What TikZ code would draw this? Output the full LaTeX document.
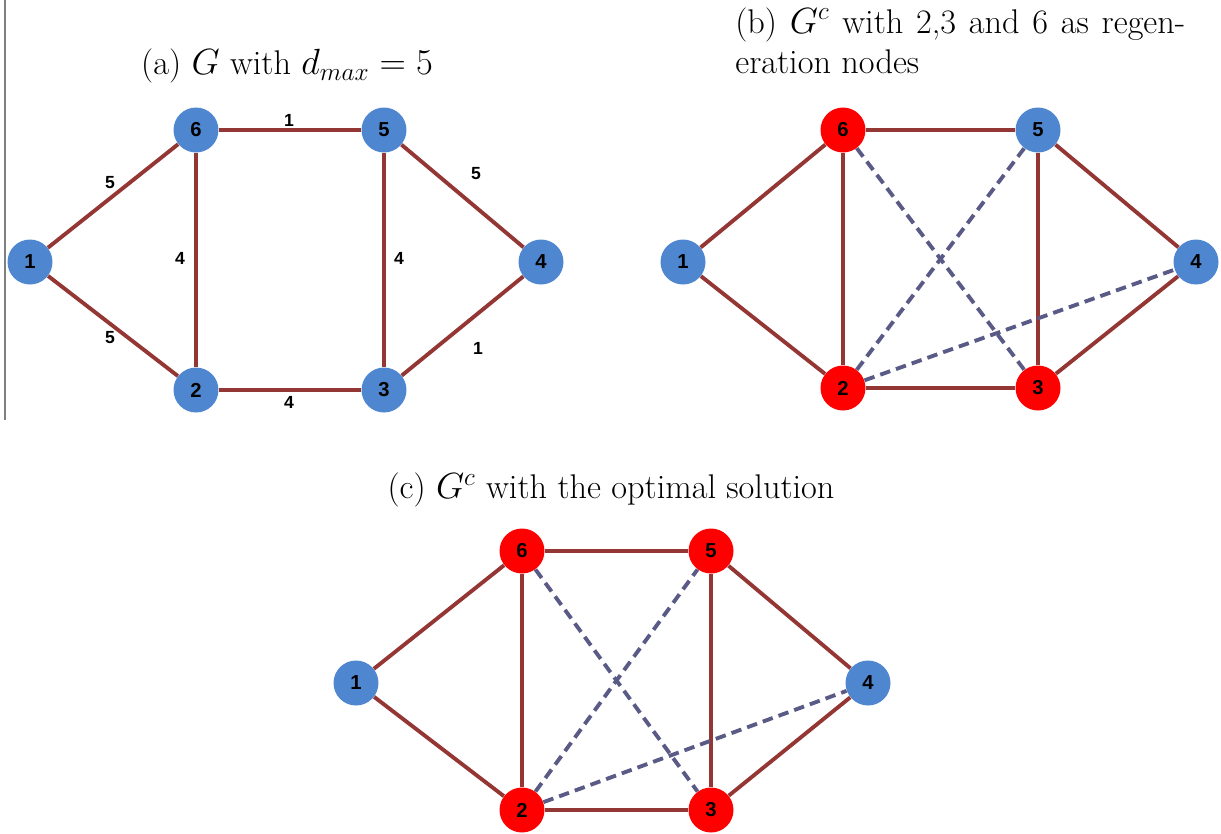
\documentclass[tikz,border=0pt]{standalone}
\usepackage{fontspec}
\newfontfamily\arialb{Liberation Sans}[BoldFont={* Bold}]
\begin{document}
\begin{tikzpicture}[x=0.02cm,y=-0.02cm,
  vtx/.style={circle,minimum size=0.9cm,inner sep=0pt,font=\arialb\bfseries\fontsize{11.5}{12}\selectfont},
  bl/.style={vtx,fill={rgb,255:red,79;green,134;blue,208}},
  rd/.style={vtx,fill={rgb,255:red,255;green,0;blue,0}},
  ed/.style={draw={rgb,255:red,148;green,54;blue,52},line width=2.2pt},
  dsh/.style={draw={rgb,255:red,90;green,90;blue,135},line width=2.2pt,dash pattern=on 6pt off 3.5pt},
  wl/.style={font=\arialb\bfseries\fontsize{10}{12}\selectfont,inner sep=0pt},
  ttl/.style={font=\fontsize{19.5}{23}\selectfont,inner sep=0pt}]
\useasboundingbox (0,0) rectangle (1221,833);
\draw[line width=0.9pt,gray] (5,0) -- (5,420);
% (a)
\node[ttl] (ta) at (287,66) {(a) $G$ with $d_{max}=5$};
\node[bl] (a1) at (30,262) {1};
\node[bl] (a6) at (196,130) {6};
\node[bl] (a5) at (384,130) {5};
\node[bl] (a4) at (541,262) {4};
\node[bl] (a2) at (196,390) {2};
\node[bl] (a3) at (384,390) {3};
\draw[ed] (a1) -- (a6);
\draw[ed] (a1) -- (a2);
\draw[ed] (a6) -- (a5);
\draw[ed] (a6) -- (a2);
\draw[ed] (a5) -- (a3);
\draw[ed] (a5) -- (a4);
\draw[ed] (a2) -- (a3);
\draw[ed] (a3) -- (a4);
\node[wl] (l1) at (110,183) {5};
\node[wl] (l2) at (180,258) {4};
\node[wl] (l3) at (289,120) {1};
\node[wl] (l4) at (476,174) {5};
\node[wl] (l5) at (399,258) {4};
\node[wl] (l6) at (110,338) {5};
\node[wl] (l7) at (289,402) {4};
\node[wl] (l8) at (478,348) {1};
% (b)
\node[ttl,text width=9cm,align=justify,anchor=north west] (tb) at (735,7) {(b) $G^c$ with 2,3 and 6 as regen-\linebreak eration nodes};
\node[bl] (b1) at (683,262) {1};
\node[rd] (b6) at (843,130) {6};
\node[bl] (b5) at (1038,130) {5};
\node[bl] (b4) at (1196,262) {4};
\node[rd] (b2) at (843,388) {2};
\node[rd] (b3) at (1038,388) {3};
\draw[ed] (b1) -- (b6);
\draw[ed] (b1) -- (b2);
\draw[ed] (b6) -- (b5);
\draw[ed] (b6) -- (b2);
\draw[ed] (b5) -- (b3);
\draw[ed] (b5) -- (b4);
\draw[ed] (b2) -- (b3);
\draw[ed] (b3) -- (b4);
\draw[dsh] (b6) -- (b3);
\draw[dsh] (b2) -- (b5);
\draw[dsh] (b2) -- (b4);
% (c)
\node[ttl] (tc) at (611,490) {(c) $G^c$ with the optimal solution};
\node[bl] (c1) at (356,683) {1};
\node[rd] (c6) at (522,551) {6};
\node[rd] (c5) at (711,551) {5};
\node[bl] (c4) at (868,683) {4};
\node[rd] (c2) at (522,810) {2};
\node[rd] (c3) at (711,810) {3};
\draw[ed] (c1) -- (c6);
\draw[ed] (c1) -- (c2);
\draw[ed] (c6) -- (c5);
\draw[ed] (c6) -- (c2);
\draw[ed] (c5) -- (c3);
\draw[ed] (c5) -- (c4);
\draw[ed] (c2) -- (c3);
\draw[ed] (c3) -- (c4);
\draw[dsh] (c6) -- (c3);
\draw[dsh] (c2) -- (c5);
\draw[dsh] (c2) -- (c4);
\end{tikzpicture}
\end{document}
